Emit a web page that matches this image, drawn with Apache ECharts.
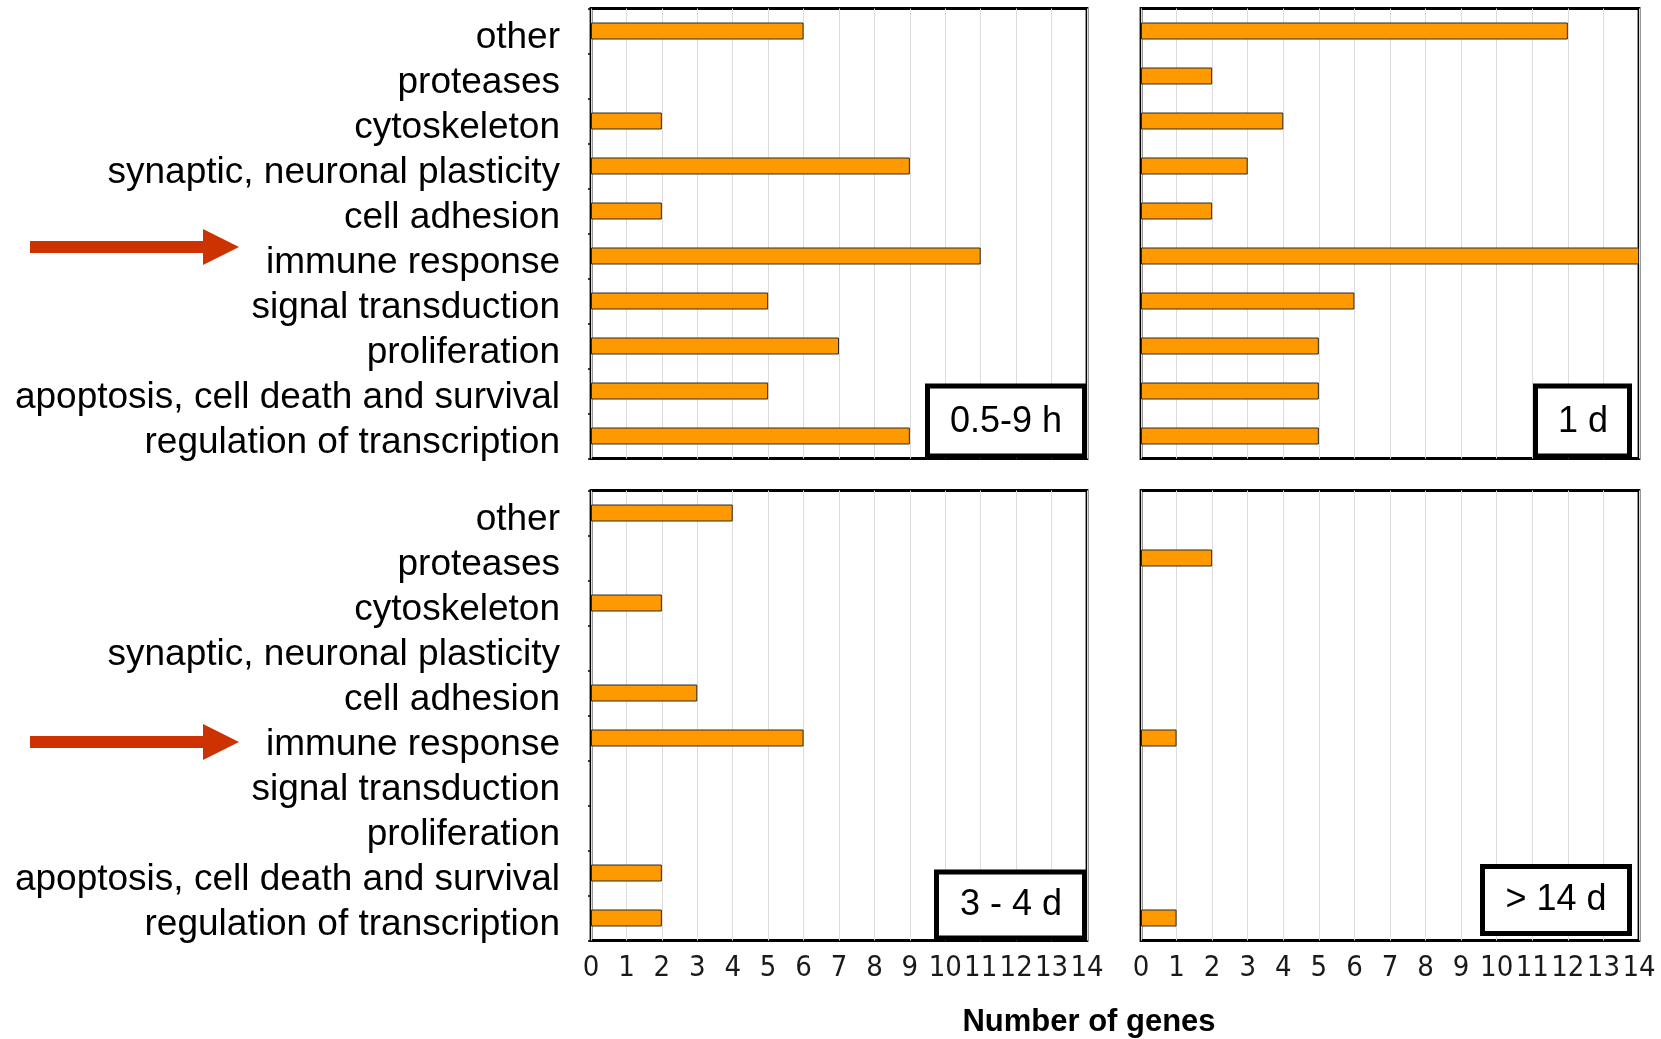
<!DOCTYPE html>
<html>
<head>
<meta charset="utf-8">
<script src="https://cdn.jsdelivr.net/npm/echarts@6/dist/echarts.min.js"></script>
<style>
  html, body { margin: 0; padding: 0; background: #fff; }
  #chart { width: 1661px; height: 1039px; }
</style>
</head>
<body>
<div id="chart"></div>
<script>
// Functional categories, listed top to bottom
const categories = [
  'other',
  'proteases',
  'cytoskeleton',
  'synaptic, neuronal plasticity',
  'cell adhesion',
  'immune response',
  'signal transduction',
  'proliferation',
  'apoptosis, cell death and survival',
  'regulation of transcription'
];

// Number of regulated genes per category at each time window
const genes05to9h  = [6, 0, 2, 9, 2, 11, 5, 7, 5, 9];
const genes1d      = [12, 2, 4, 3, 2, 14, 6, 5, 5, 5];
const genes3to4d   = [4, 0, 2, 0, 3, 6, 0, 0, 2, 2];
const genesOver14d = [0, 2, 0, 0, 0, 1, 0, 0, 0, 1];

const periodLabels = ['0.5-9 h', '1 d', '3 - 4 d', '> 14 d'];
const periodValues = [genes05to9h, genes1d, genes3to4d, genesOver14d];

const xMin = 0, xMax = 14, xStep = 1;
const axisTitle = 'Number of genes';

const LABEL_FONT = '"Liberation Sans", Arial, sans-serif';
const TICK_FONT = '"Liberation Sans Narrow", "DejaVu Sans Condensed", "Liberation Sans", sans-serif';

// panel layout: [left, top, width, height]
const panels = [
  [591, 8.5, 496, 450],
  [1141, 8.5, 498, 450],
  [591, 490.5, 496, 450],
  [1141, 490.5, 498, 450]
];

const grids = panels.map(p => ({
  left: p[0], top: p[1], width: p[2], height: p[3],
  show: true, borderColor: '#000', borderWidth: 2.8, backgroundColor: '#fff'
}));

const xAxes = panels.map((p, i) => ({
  type: 'value', gridIndex: i, min: xMin, max: xMax, interval: xStep,
  axisLine: { show: false }, axisTick: { show: false },
  splitLine: { show: true, lineStyle: { color: '#dcdcdc', width: 1 } },
  axisLabel: {
    show: i >= 2, margin: 13, color: '#1a1a1a',
    fontFamily: TICK_FONT, fontSize: 29
  }
}));

// category names sit slightly below the middle of their row
const yAxes = panels.map((p, i) => ({
  type: 'category', gridIndex: i, data: categories, inverse: true,
  axisLine: { show: false },
  axisTick: { show: i % 2 === 0, length: 3, lineStyle: { color: '#000', width: 1.5 } },
  axisLabel: {
    show: i % 2 === 0, interval: 0, hideOverlap: false, margin: 31, color: '#000',
    fontFamily: LABEL_FONT, fontSize: 37, verticalAlign: 'top', lineHeight: 13
  }
}));

// empty categories get no bar
const series = periodValues.map((vals, i) => ({
  type: 'bar', xAxisIndex: i, yAxisIndex: i,
  data: vals.map(v => (v === 0 ? null : v)),
  barWidth: 17, z: 3,
  itemStyle: { color: '#FF9900', borderColor: '#2a2a2a', borderWidth: 1 }
}));

// period tag boxes in the lower-right corner of each panel: [x, y, w, h, textX, textY]
const tagBoxes = [
  [927.5, 386, 157, 70, 1006, 422],
  [1535.5, 386, 94, 70, 1583, 422],
  [936.5, 872, 148, 66, 1011, 905],
  [1482.5, 866.5, 147, 67, 1556, 900]
];

const graphics = [];
tagBoxes.forEach((b, i) => {
  graphics.push({
    type: 'rect', z: 10,
    shape: { x: b[0], y: b[1], width: b[2], height: b[3] },
    style: { fill: '#fff', stroke: '#000', lineWidth: 5 }
  });
  graphics.push({
    type: 'text', z: 11, x: b[4], y: b[5],
    style: {
      text: periodLabels[i], fill: '#000', font: '36px ' + LABEL_FONT,
      align: 'center', verticalAlign: 'middle'
    }
  });
});

// red arrows pointing at the immune response rows
[247, 742].forEach(cy => {
  graphics.push({
    type: 'rect', z: 10,
    shape: { x: 30, y: cy - 6, width: 175, height: 12 },
    style: { fill: '#CC3300' }
  });
  graphics.push({
    type: 'polygon', z: 10,
    shape: { points: [[203, cy - 18], [239, cy], [203, cy + 18]] },
    style: { fill: '#CC3300' }
  });
});

graphics.push({
  type: 'text', z: 11, x: 1089, y: 1022,
  style: {
    text: axisTitle, fill: '#000', font: 'bold 31px ' + LABEL_FONT,
    align: 'center', verticalAlign: 'middle'
  }
});

const chart = echarts.init(document.getElementById('chart'), null, { renderer: 'canvas' });
chart.setOption({
  animation: false,
  backgroundColor: '#fff',
  grid: grids,
  xAxis: xAxes,
  yAxis: yAxes,
  series: series,
  graphic: graphics
});
</script>
</body>
</html>
